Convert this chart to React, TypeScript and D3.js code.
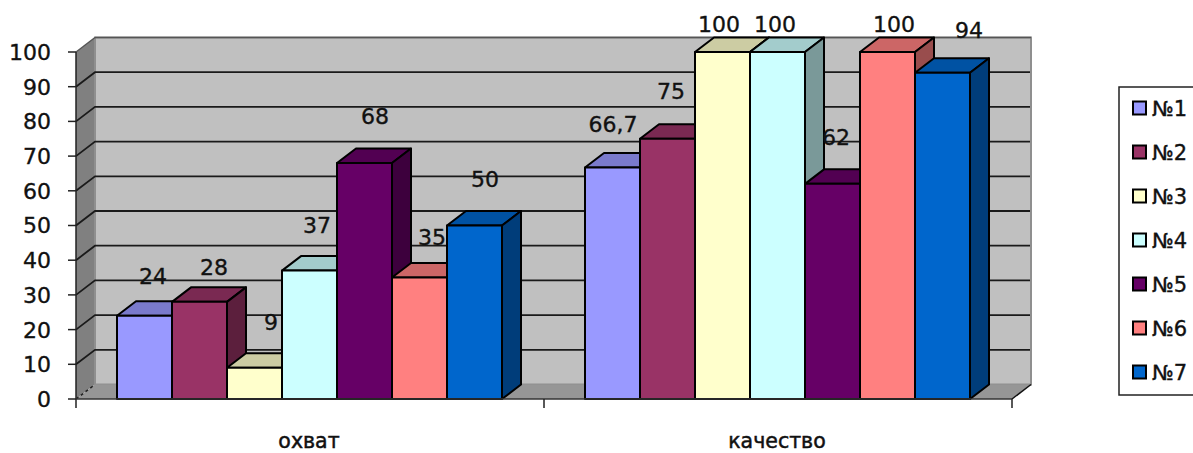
import React from "react";
import * as d3 from "d3";

const categories = ["охват", "качество"];
const seriesNames = ["№1", "№2", "№3", "№4", "№5", "№6", "№7"];
const seriesColors = ["#9999FF", "#993366", "#FFFFCC", "#CCFFFF", "#660066", "#FF8080", "#0066CC"];
const valuesCoverage = [24, 28, 9, 37, 68, 35, 50];
const valuesQuality = [66.7, 75, 100, 100, 62, 100, 94];
const labelsCoverage = ["24", "28", "9", "37", "68", "35", "50"];
const labelsQuality = ["66,7", "75", "100", "100", "62", "100", "94"];
const yTicks = [0, 10, 20, 30, 40, 50, 60, 70, 80, 90, 100];

// hand-placed data label offsets from each bar's back-top centre
const labelShiftCoverage = [[-1, -25], [5, -20], [7, -31], [-2, -31], [1, -32], [3, -26], [1, -32]];
const labelShiftQuality = [[-9, -29], [-6, -33], [-13, -13], [-12, -13], [-6, -32], [-3, -13], [17, -28]];

const W = 1193, H = 453;
const FONT = "'DejaVu Sans', sans-serif";
const left = 76, right = 1012, bottom = 399, top = 52, dx = 19, dy = -14.5;

const y = d3.scaleLinear().domain([0, 100]).range([bottom, top]);
const x0 = d3.scaleBand<string>().domain(categories).range([left, right]);
const x1 = d3.scaleBand<string>().domain(seriesNames).range([41, 426]);
const shade = (c: string, k: number) => {
  const r = d3.rgb(c);
  return d3.rgb(r.r * k, r.g * k, r.b * k).formatHex();
};
const poly = (pts: number[][]) => pts.map((p) => p.join(",")).join(" ");
const legendY = d3.scalePoint<string>().domain(seriesNames).range([108, 372]);

export default function App() {
  const rows = [valuesCoverage, valuesQuality];
  const labels = [labelsCoverage, labelsQuality];
  const shifts = [labelShiftCoverage, labelShiftQuality];
  const text = { fontFamily: FONT, fill: "#111", stroke: "#111", strokeWidth: 0.35, fontSize: 22 } as const;
  return (
    <svg width={W} height={H} viewBox={`0 0 ${W} ${H}`} style={{ position: "absolute", left: 0, top: 0, background: "#fff" }}>
      {/* walls */}
      <polygon points={poly([[left, top], [left + dx, top + dy], [left + dx, bottom + dy], [left, bottom]])} fill="#808080" />
      <polygon points={poly([[left + dx, top + dy], [right + dx, top + dy], [right + dx, bottom + dy], [left + dx, bottom + dy]])} fill="#C0C0C0" stroke="#8f8f8f" strokeWidth={2} />
      <polygon points={poly([[left, bottom], [left + dx, bottom + dy], [right + dx, bottom + dy], [right, bottom]])} fill="#969696" />
      <line x1={left} x2={left + dx} y1={bottom} y2={bottom + dy} stroke="#222" strokeWidth={1.5} strokeDasharray="3 3" />
      <line x1={right} x2={right + dx} y1={bottom} y2={bottom + dy} stroke="#111" strokeWidth={1.5} />
      <line x1={left + dx} x2={right + dx} y1={top + dy} y2={top + dy} stroke="#555" strokeWidth={1.6} />
      <line x1={left} x2={left + dx} y1={top} y2={top + dy} stroke="#555" strokeWidth={1.4} />
      {/* gridlines */}
      {yTicks.filter((t) => t > 0 && t < 100).map((t) => (
        <polyline
          key={t}
          fill="none"
          stroke="#1a1a1a"
          strokeWidth={1.8}
          points={poly([[left, y(t)], [left + dx, y(t) + dy], [right + dx - 1, y(t) + dy]])}
        />
      ))}
      {/* bars */}
      {categories.map((cat, c) => (
        <g key={cat}>
          {seriesNames.map((s, i) => {
            const v = rows[c][i];
            const xa = x0(cat)! + x1(s)!;
            const xb = xa + x1.bandwidth();
            const yt = y(v);
            return (
              <g key={s} stroke="#000" strokeWidth={2} strokeLinejoin="round">
                <polygon points={poly([[xa, yt], [xa + dx, yt + dy], [xb + dx, yt + dy], [xb, yt]])} fill={shade(seriesColors[i], 0.8)} />
                <polygon points={poly([[xb, yt], [xb + dx, yt + dy], [xb + dx, bottom + dy], [xb, bottom]])} fill={shade(seriesColors[i], 0.6)} />
                <rect x={xa} y={yt} width={xb - xa} height={bottom - yt} fill={seriesColors[i]} />
              </g>
            );
          })}
        </g>
      ))}
      {/* axes */}
      <line x1={left} x2={left} y1={top} y2={bottom + 9} stroke="#222" strokeWidth={1.5} />
      <line x1={left} x2={right} y1={bottom} y2={bottom} stroke="#333" strokeWidth={1.6} />
      {yTicks.map((t) => (
        <g key={t}>
          <line x1={left - 8} x2={left} y1={y(t)} y2={y(t)} stroke="#222" strokeWidth={1.5} />
          <text x={51} y={y(t)} dy="0.36em" textAnchor="end" {...text}>{t}</text>
        </g>
      ))}
      {[right, x0.range()[0] + x0.bandwidth()].map((px) => (
        <line key={px} x1={px} x2={px} y1={bottom} y2={bottom + 9} stroke="#222" strokeWidth={1.5} />
      ))}
      {categories.map((cat) => (
        <text key={cat} x={x0(cat)! + x0.bandwidth() / 2 - 1} y={448} textAnchor="middle" {...text} fontSize={20.5} strokeWidth={0.5}>{cat}</text>
      ))}
      {/* data labels */}
      {categories.map((cat, c) =>
        seriesNames.map((s, i) => (
          <text
            key={cat + s}
            x={x0(cat)! + x1(s)! + x1.bandwidth() / 2 + dx / 2 + shifts[c][i][0]}
            y={y(rows[c][i]) + dy + shifts[c][i][1]}
            dy="0.36em"
            textAnchor="middle"
            {...text}
          >
            {labels[c][i]}
          </text>
        ))
      )}
      {/* legend */}
      <rect x={1119} y={87} width={90} height={308} fill="#fff" stroke="#222" strokeWidth={1.5} />
      {seriesNames.map((s, i) => (
        <g key={s}>
          <rect x={1133} y={legendY(s)! - 6.5} width={13} height={13} fill={seriesColors[i]} stroke="#000" strokeWidth={2} />
          <text x={1152} y={legendY(s)!} dy="0.36em" {...text} fontSize={21}>{s}</text>
        </g>
      ))}
    </svg>
  );
}
